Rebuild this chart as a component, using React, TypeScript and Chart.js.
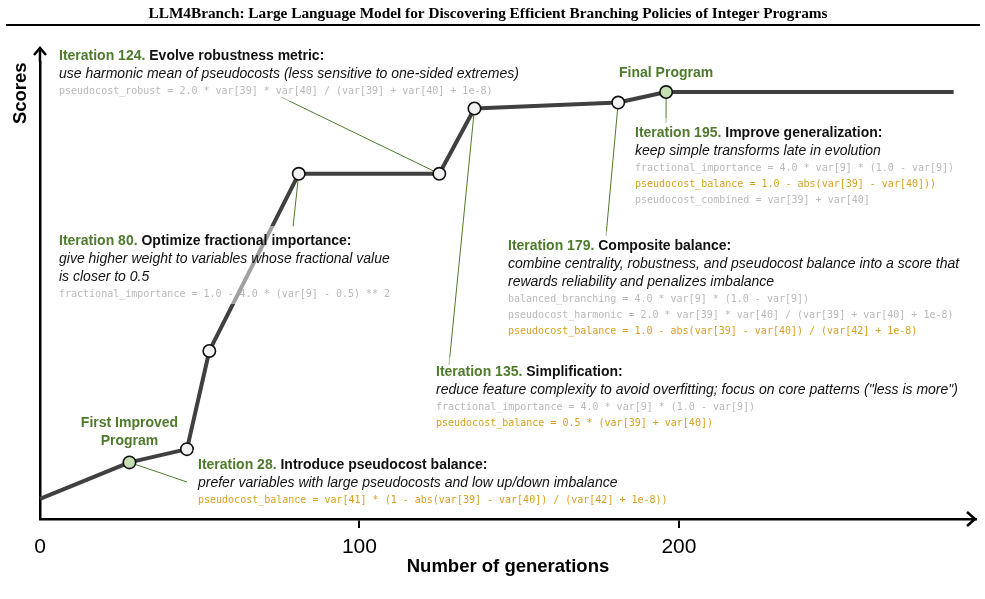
import React, { useEffect, useRef } from "react";
import { Chart, registerables } from "chart.js";

Chart.register(...registerables);

// ---------------- data ----------------
const TITLE =
  "LLM4Branch: Large Language Model for Discovering Efficient Branching Policies of Integer Programs";
const X_TITLE = "Number of generations";
const Y_TITLE = "Scores";
const X_MIN = 0;
const X_MAX = 293;
const X_TICKS = [0, 100, 200];
const Y_MIN = 0;
const Y_MAX = 100;

const GENERATIONS = [0, 28, 46, 53, 81, 125, 136, 181, 196, 286];
const SCORES = [4.4, 12.4, 15.3, 36.8, 75.6, 75.6, 89.9, 91.2, 93.5, 93.5];
const MILESTONE = [false, true, false, false, false, false, false, false, true, false];
const SHOW_MARKER = [false, true, true, true, true, true, true, true, true, false];

const MILESTONE_POINTS = [1, 8];
const MILESTONE_LABELS = [["First Improved", "Program"], ["Final Program"]];

const NOTE_POINTS = [1, 4, 5, 6, 7, 8];
const NOTE_TAGS = [
  "Iteration 28.",
  "Iteration 80.",
  "Iteration 124.",
  "Iteration 135.",
  "Iteration 179.",
  "Iteration 195.",
];
const NOTE_TITLES = [
  "Introduce pseudocost balance:",
  "Optimize fractional importance:",
  "Evolve robustness metric:",
  "Simplification:",
  "Composite balance:",
  "Improve generalization:",
];
const NOTE_DESCS = [
  ["prefer variables with large pseudocosts and low up/down imbalance"],
  ["give higher weight to variables whose fractional value", "is closer to 0.5"],
  ["use harmonic mean of pseudocosts (less sensitive to one-sided extremes)"],
  ['reduce feature complexity to avoid overfitting; focus on core patterns ("less is more")'],
  [
    "combine centrality, robustness, and pseudocost balance into a score that",
    "rewards reliability and penalizes imbalance",
  ],
  ["keep simple transforms late in evolution"],
];
const NOTE_CODE = [
  ["pseudocost_balance = var[41] * (1 - abs(var[39] - var[40]) / (var[42] + 1e-8))"],
  ["fractional_importance = 1.0 - 4.0 * (var[9] - 0.5) ** 2"],
  ["pseudocost_robust = 2.0 * var[39] * var[40] / (var[39] + var[40] + 1e-8)"],
  [
    "fractional_importance = 4.0 * var[9] * (1.0 - var[9])",
    "pseudocost_balance = 0.5 * (var[39] + var[40])",
  ],
  [
    "balanced_branching = 4.0 * var[9] * (1.0 - var[9])",
    "pseudocost_harmonic = 2.0 * var[39] * var[40] / (var[39] + var[40] + 1e-8)",
    "pseudocost_balance = 1.0 - abs(var[39] - var[40]) / (var[42] + 1e-8)",
  ],
  [
    "fractional_importance = 4.0 * var[9] * (1.0 - var[9])",
    "pseudocost_balance = 1.0 - abs(var[39] - var[40]))",
    "pseudocost_combined = var[39] + var[40]",
  ],
];
const NOTE_CODE_HIGHLIGHT = [
  [true],
  [false],
  [false],
  [false, true],
  [false, false, true],
  [false, true, false],
];

// ---------------- layout / style ----------------
const W = 985;
const H = 599;
const SANS = "'Liberation Sans', Arial, Helvetica, sans-serif";
const SERIF = "'Liberation Serif', 'Times New Roman', serif";
const MONO = "'DejaVu Sans Mono', 'Liberation Mono', monospace";
const GREEN = "#4e7a2c";
const GOLD = "#d7a11f";
const CODE_GRAY = "#b9b9b9";
const LINE = "#404040";

// text anchor (left x, header centre y) and connector start for each note
const NOTE_LAYOUT = [
  { x: 198, y: 465, lx: 187, ly: 482 },
  { x: 59, y: 241, lx: 293, ly: 227 },
  { x: 59, y: 56, lx: 281, ly: 97 },
  { x: 436, y: 372, lx: 449, ly: 365 },
  { x: 508, y: 246, lx: 606, ly: 236 },
  { x: 635, y: 133, lx: 666, ly: 123 },
];
// vertical centre of first label line; x is centred on the point
const MILESTONE_LABEL_Y = [423, 73];

const notesPlugin = {
  id: "notes",
  beforeDatasetsDraw(chart: any) {
    const { ctx } = chart;
    const xs = chart.scales.x;
    const ys = chart.scales.y;
    ctx.save();
    ctx.strokeStyle = GREEN;
    ctx.lineWidth = 1;
    NOTE_POINTS.forEach((p, i) => {
      const L = NOTE_LAYOUT[i];
      ctx.beginPath();
      ctx.moveTo(L.lx, L.ly);
      ctx.lineTo(xs.getPixelForValue(GENERATIONS[p]), ys.getPixelForValue(SCORES[p]));
      ctx.stroke();
    });
    ctx.restore();
  },
  afterDatasetsDraw(chart: any) {
    const { ctx } = chart;
    const xs = chart.scales.x;
    ctx.save();
    ctx.textBaseline = "middle";
    ctx.textAlign = "left";
    NOTE_POINTS.forEach((_, i) => {
      const L = NOTE_LAYOUT[i];
      let y = L.y;
      const descY: number[] = [];
      NOTE_DESCS[i].forEach((_d, k) => {
        y += k === 0 ? 18.5 : 18;
        descY.push(y);
      });
      const codeY: number[] = [];
      NOTE_CODE[i].forEach((_c, k) => {
        y += k === 0 ? 16.5 : 16;
        codeY.push(y);
      });
      ctx.font = `bold 14px ${SANS}`;
      let maxW = ctx.measureText(NOTE_TAGS[i] + " " + NOTE_TITLES[i]).width;
      ctx.font = `italic 14px ${SANS}`;
      NOTE_DESCS[i].forEach((d) => (maxW = Math.max(maxW, ctx.measureText(d).width)));
      ctx.font = `10px ${MONO}`;
      NOTE_CODE[i].forEach((c) => (maxW = Math.max(maxW, ctx.measureText(c).width)));
      // translucent backing behind the text block
      ctx.fillStyle = "rgba(255,255,255,0.5)";
      ctx.fillRect(L.x - 5, L.y - 15, maxW + 10, y + 10 - (L.y - 15));
      // header
      ctx.font = `bold 14px ${SANS}`;
      ctx.fillStyle = GREEN;
      ctx.fillText(NOTE_TAGS[i], L.x, L.y);
      const tw = ctx.measureText(NOTE_TAGS[i] + " ").width;
      ctx.fillStyle = "#111";
      ctx.fillText(NOTE_TITLES[i], L.x + tw, L.y);
      ctx.font = `italic 14px ${SANS}`;
      NOTE_DESCS[i].forEach((d, k) => ctx.fillText(d, L.x, descY[k]));
      ctx.font = `10px ${MONO}`;
      NOTE_CODE[i].forEach((c, k) => {
        ctx.fillStyle = NOTE_CODE_HIGHLIGHT[i][k] ? GOLD : CODE_GRAY;
        ctx.fillText(c, L.x, codeY[k]);
      });
    });
    // milestone labels
    ctx.textAlign = "center";
    ctx.font = `bold 14px ${SANS}`;
    ctx.fillStyle = GREEN;
    MILESTONE_POINTS.forEach((p, i) => {
      const cx = xs.getPixelForValue(GENERATIONS[p]);
      MILESTONE_LABELS[i].forEach((t, k) => ctx.fillText(t, cx, MILESTONE_LABEL_Y[i] + k * 18));
    });
    ctx.restore();
  },
  afterDraw(chart: any) {
    const { ctx, chartArea } = chart;
    ctx.save();
    ctx.strokeStyle = "#000";
    ctx.lineCap = "butt";
    // title rule
    ctx.lineWidth = 2;
    ctx.beginPath();
    ctx.moveTo(6, 25);
    ctx.lineTo(980, 25);
    ctx.stroke();
    // y axis extension + arrow
    ctx.lineWidth = 2.5;
    const ax = chartArea.left;
    const top = 47;
    ctx.beginPath();
    ctx.moveTo(ax, chartArea.top);
    ctx.lineTo(ax, top + 1);
    ctx.stroke();
    ctx.lineJoin = "miter";
    ctx.beginPath();
    ctx.moveTo(ax - 6, top + 8);
    ctx.lineTo(ax, top + 1);
    ctx.lineTo(ax + 6, top + 8);
    ctx.stroke();
    // x arrow
    const ay = chartArea.bottom;
    const right = chartArea.right;
    ctx.beginPath();
    ctx.moveTo(right - 9, ay - 7);
    ctx.lineTo(right - 1, ay);
    ctx.lineTo(right - 9, ay + 7);
    ctx.stroke();
    ctx.restore();
  },
};

export default function App() {
  const ref = useRef<HTMLCanvasElement | null>(null);
  useEffect(() => {
    if (!ref.current) return;
    Chart.defaults.font.family = SANS;
    const chart = new Chart(ref.current, {
      type: "line",
      data: {
        datasets: [
          {
            data: GENERATIONS.map((g, i) => ({ x: g, y: SCORES[i] })),
            borderColor: LINE,
            borderWidth: 4,
            tension: 0,
            borderJoinStyle: "round",
            pointRadius: SHOW_MARKER.map((s) => (s ? 6.2 : 0)),
            pointHoverRadius: SHOW_MARKER.map((s) => (s ? 6.2 : 0)),
            pointBackgroundColor: MILESTONE.map((m) => (m ? "#c6e0b4" : "#f2f2f2")),
            pointBorderColor: "#111",
            pointBorderWidth: 1.6,
            clip: false as any,
          },
        ],
      },
      options: {
        responsive: false,
        animation: false,
        events: [],
        layout: { padding: { top: 0, left: 0, right: 9, bottom: 0 } },
        plugins: {
          legend: { display: false },
          tooltip: { enabled: false },
          title: {
            display: true,
            text: TITLE,
            color: "#000",
            font: { family: SERIF, size: 15.3, weight: "bold" },
            padding: { top: 5, bottom: 39 },
          },
        },
        scales: {
          x: {
            type: "linear",
            position: "bottom",
            min: X_MIN,
            max: X_MAX,
            afterFit: (s: any) => {
              s.height = 80;
            },
            afterBuildTicks: (s: any) => {
              s.ticks = X_TICKS.map((v) => ({ value: v }));
            },
            ticks: {
              color: "#000",
              font: { size: 21 },
              padding: 7,
              maxRotation: 0,
              autoSkip: false,
            },
            grid: {
              drawOnChartArea: false,
              drawTicks: true,
              tickLength: 9,
              lineWidth: 2,
              color: (c: any) => (c.tick && c.tick.value === 0 ? "rgba(0,0,0,0)" : "#000"),
            },
            border: { display: true, color: "#000", width: 2.5 },
            title: {
              display: true,
              text: X_TITLE,
              color: "#000",
              font: { size: 18.5, weight: "bold" },
              padding: { top: 0, bottom: 21 },
            },
          },
          y: {
            type: "linear",
            min: Y_MIN,
            max: Y_MAX,
            afterFit: (s: any) => {
              s.width = 40;
            },
            ticks: { display: false },
            grid: { display: false, drawTicks: false },
            border: { display: true, color: "#000", width: 2.5 },
            title: {
              display: true,
              text: Y_TITLE,
              color: "#000",
              align: "end",
              font: { size: 18.5, weight: "bold" },
              padding: { top: 10, bottom: 0 },
            },
          },
        },
      },
      plugins: [notesPlugin],
    } as any);
    return () => chart.destroy();
  }, []);
  return (
    <div style={{ position: "fixed", left: 0, top: 0, width: W, height: H, background: "#fff" }}>
      <canvas ref={ref} width={W} height={H} style={{ display: "block" }} />
    </div>
  );
}
